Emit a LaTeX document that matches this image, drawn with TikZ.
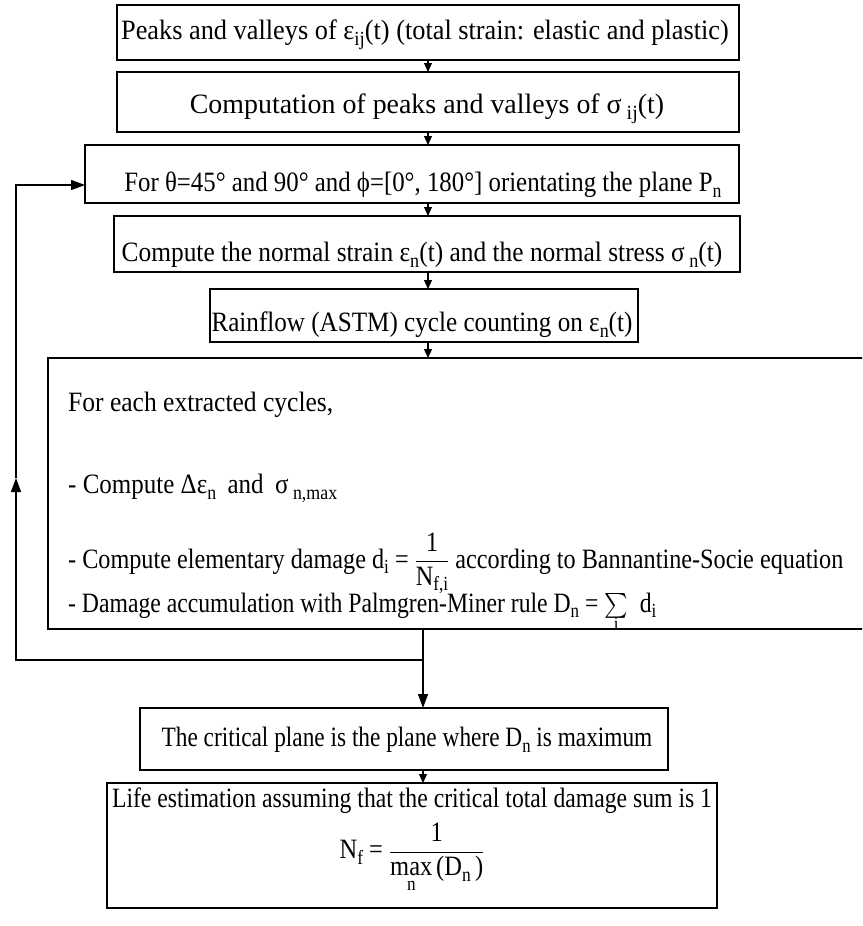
\documentclass[tikz,border=0pt]{standalone}
\usepackage{fontspec}
\setmainfont[FakeStretch=0.94]{Liberation Serif}
\usepackage{amsmath}
\usepackage{graphicx}
\usetikzlibrary{arrows.meta,fit}
\newcommand{\sbs}[1]{\raisebox{-0.45ex}{\fontsize{20}{20}\selectfont #1}}
\newcommand{\hs}[2]{\scalebox{#1}[1]{#2}}
\newsavebox{\sumbox}
\newcommand{\sumi}{\sbox{\sumbox}{$\sum$}\usebox{\sumbox}\llap{\makebox[\wd\sumbox]{\raisebox{-18pt}{\fontsize{20}{20}\selectfont i}}}}
\begin{document}
\begin{tikzpicture}[x=1pt,y=-1pt,
  box/.style={draw, line width=1.2pt, inner sep=0pt, outer sep=0pt},
  txt/.style={font=\fontsize{28}{30}\selectfont, inner sep=0pt},
  lnk/.style={line width=1.1pt},
  sarrow/.style={lnk, -{Triangle[length=9pt,width=8pt]}},
  barrow/.style={lnk, -{Triangle[length=14pt,width=10pt]}}]
\clip (0,0) rectangle (862,926);
\fill[white] (0,0) rectangle (862,926);
% boxes
\node[box, fit={(117,5)(739,60)}] (b1) {};
\node[box, fit={(117,72)(739,132)}] (b2) {};
\node[box, fit={(85,145)(739,203)}] (b3) {};
\node[box, fit={(114,216)(740,272)}] (b4) {};
\node[box, fit={(210,289)(638,342)}] (b5) {};
\node[box, fit={(48,358)(880,629)}] (b6) {};
\node[box, fit={(140,708)(668,770)}] (b7) {};
\node[box, fit={(107,783)(717,908)}] (b8) {};
% texts
\node[txt] (t1) at (425,35) {Peaks and valleys of ε\sbs{ij}(t)\ (total strain: elastic and plastic)};
\node[txt] (t2) at (427,109) {\hs{1.06}{Computation of peaks and valleys of σ\,\sbs{ij}(t)}};
\node[txt] (t3) at (423,185) {\hs{0.943}{For θ=45° and 90° and ϕ=[0°, 180°] orientating the plane\ P\sbs{n}}};
\node[txt] (t4) at (422,255) {\hs{0.965}{Compute the normal strain\ ε\sbs{n}(t)\ and the normal stress\ σ\,\sbs{n}(t)}};
\node[txt] (t5) at (422,325) {\hs{0.955}{Rainflow (ASTM) cycle counting on\ ε\sbs{n}(t)}};
\node[txt, anchor=west] (t6a) at (68,405) {\hs{0.97}{For each extracted cycles,}};
\node[txt, anchor=west] (t6b) at (68,488) {\hs{0.95}{- Compute\ Δε\sbs{n}\hspace{12pt}and\hspace{12pt}σ\,\sbs{n,max}}};
\node[txt, anchor=base west] (t6c) at (68,568) {\hs{0.92}{- Compute elementary damage\ d\sbs{i} = \smash{$\dfrac{\text{1}}{\text{N\sbs{f,i}}}$}\ according to Bannantine-Socie equation}};
\node[txt, anchor=base west] (t6d) at (68,612) {\hs{0.9}{- Damage accumulation with Palmgren-Miner rule\ D\sbs{n} = \smash{\sumi}\ \ d\sbs{i}}};
\node[txt] (t7) at (407,740) {\hs{0.886}{The critical plane is the plane where\ D\sbs{n}\ is maximum}};
\node[txt] (t8a) at (412,801) {\hs{0.9}{Life estimation assuming that the critical total damage sum is 1}};
\node[txt] (t8b) at (412,858) {\hs{0.93}{N\sbs{f}\ = $\dfrac{\text{1}}{\mathop{\text{max}}\limits_{\text{n}}\text{(D\sbs{n}\,)}}$}};
% connectors
\draw[sarrow] (b1.south -| 428,0) -- (b2.north -| 428,0);
\draw[sarrow] (b2.south -| 428,0) -- (b3.north -| 428,0);
\draw[sarrow] (b3.south -| 428,0) -- (b4.north -| 428,0);
\draw[sarrow] (b4.south -| 428,0) -- (b5.north -| 428,0);
\draw[sarrow] (b5.south -| 428,0) -- (b6.north -| 428,0);
\coordinate (j) at (423,660);
\coordinate (c1) at (16,660);
\coordinate (c2) at (16,478);
\coordinate (c3) at (16,185);
\draw[lnk] (b6.south -| j) -- (j);
\draw[barrow] (j) -- (b7.north -| j);
\draw[barrow] (j) -- (c1) -- (c2);
\draw[barrow] (c2) -- (c3) -- (b3.west |- c3);
\draw[sarrow] (b7.south -| j) -- (b8.north -| j);
\end{tikzpicture}
\end{document}
